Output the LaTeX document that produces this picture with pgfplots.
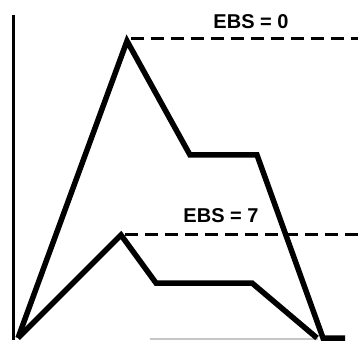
\documentclass[border=0pt]{standalone}
\usepackage{pgfplots}
\pgfplotsset{compat=1.18}
\usepackage{fontspec}
\setmainfont{Liberation Sans}
\begin{document}
\begin{tikzpicture}
\begin{axis}[scale only axis,width=358pt,height=340pt,
  xmin=0,xmax=358,ymin=0,ymax=340,
  axis line style={draw=none},xtick=\empty,ytick=\empty,
  every axis plot/.append style={line join=miter,line cap=butt}]
 % axis lines
 \addplot[black,line width=3pt] coordinates {(13.5,0) (13.5,325)};
 \addplot[gray!45,line width=1.2pt] coordinates {(150,1) (318,1)};
 % EBS = 0
 \addplot[black,line width=5.5pt] coordinates {(18,2) (127,299) (190,185) (257,185) (323,2) (345,2)};
 \addplot[black,line width=3pt,dash pattern=on 13pt off 7pt] coordinates {(131,301) (358,301)};
 % EBS = 7
 \addplot[black,line width=5.5pt] coordinates {(18,2) (121,105) (156,57) (252,57) (317,2)};
 \addplot[black,line width=3pt,dash pattern=on 13pt off 7pt] coordinates {(125,106) (358,106)};
 \node[font=\fontsize{20}{20}\selectfont\bfseries] at (axis cs:251,318) {EBS = 0};
 \node[font=\fontsize{20}{20}\selectfont\bfseries] at (axis cs:221,124) {EBS = 7};
\end{axis}
\end{tikzpicture}
\end{document}
